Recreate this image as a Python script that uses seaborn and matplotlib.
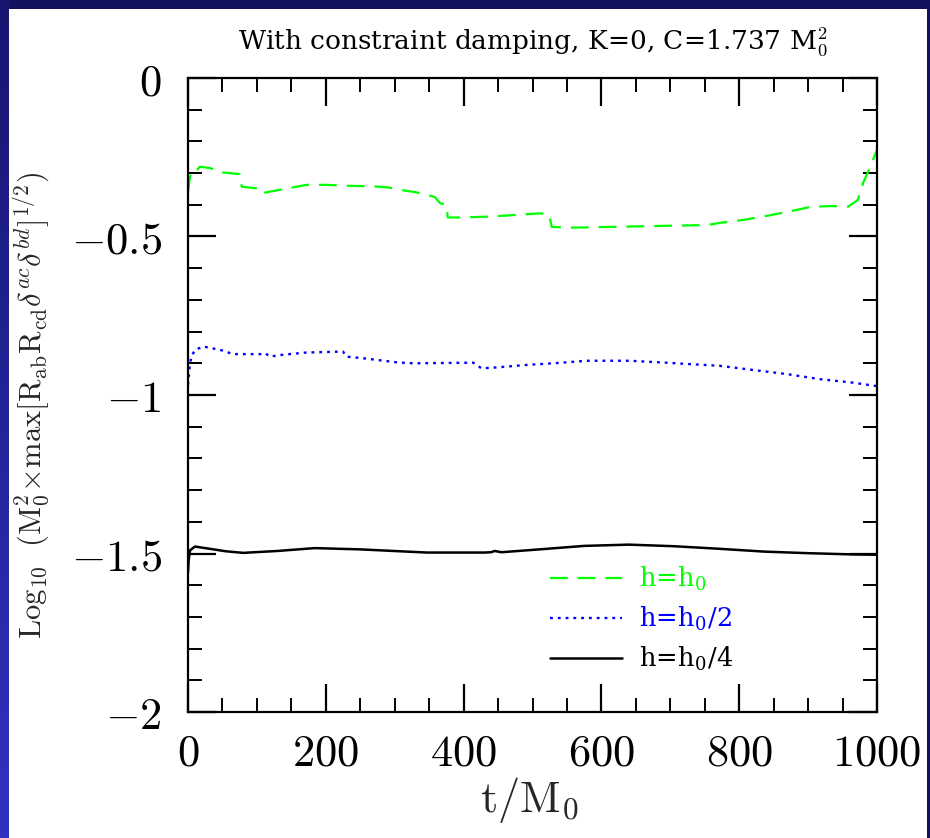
import numpy as np
import pandas as pd
import matplotlib
matplotlib.use("Agg")
import matplotlib.pyplot as plt
from matplotlib.patches import Rectangle
from matplotlib.ticker import MultipleLocator, FuncFormatter
import seaborn as sns

# ---------------- data ----------------
t_h0 = [0, 3, 7, 10, 17, 32, 46, 75, 78, 100, 108, 110, 133, 172, 200, 230, 270, 290,
        308, 330, 345, 358, 366, 375, 377, 395, 440, 475, 511, 524, 528, 560, 700, 753,
        775, 805, 840, 875, 905, 935, 958, 972, 980, 987, 1000]
v_h0 = [-0.36, -0.31, -0.295, -0.30, -0.28, -0.284, -0.297, -0.303, -0.343, -0.348,
        -0.35, -0.362, -0.353, -0.337, -0.337, -0.34, -0.342, -0.345, -0.353, -0.36,
        -0.368, -0.375, -0.395, -0.40, -0.44, -0.44, -0.437, -0.432, -0.427, -0.43,
        -0.47, -0.472, -0.466, -0.464, -0.456, -0.448, -0.435, -0.42, -0.406, -0.404,
        -0.406, -0.385, -0.33, -0.296, -0.227]

t_h2 = [0, 1, 2, 3, 5, 10, 22, 36, 51, 65, 108, 112, 119, 133, 172, 225, 230, 254, 303,
        327, 414, 426, 448, 492, 530, 579, 641, 685, 724, 772, 820, 869, 917, 965, 1000]
v_h2 = [-0.968, -0.946, -0.921, -0.90, -0.879, -0.858, -0.847, -0.853, -0.86, -0.871,
        -0.871, -0.868, -0.879, -0.874, -0.866, -0.863, -0.879, -0.884, -0.897, -0.90,
        -0.898, -0.916, -0.913, -0.905, -0.90, -0.892, -0.892, -0.897, -0.902, -0.908,
        -0.921, -0.934, -0.95, -0.961, -0.972]

t_h4 = [0, 1, 3, 10, 25, 55, 80, 130, 184, 250, 347, 430, 440, 445, 455, 510, 575, 640,
        705, 770, 836, 900, 967, 1000]
v_h4 = [-1.56, -1.52, -1.49, -1.478, -1.483, -1.493, -1.498, -1.492, -1.483, -1.487,
        -1.497, -1.497, -1.496, -1.492, -1.496, -1.487, -1.476, -1.472, -1.477, -1.485,
        -1.494, -1.499, -1.503, -1.504]

labels = [r"h=h$_\mathregular{0}$", r"h=h$_\mathregular{0}$/2", r"h=h$_\mathregular{0}$/4"]
colors = ["#00ff00", "#0000ff", "#000000"]
title_text = r"With constraint damping, K=0, C=1.737 M$_0^2$"
xlabel_text = r"$\mathrm{t/M_0}$"
ylabel_text = r"$\mathrm{Log_{10}\ \ (M_0^2\!\times\!max[R_{ab}R_{cd}}\delta^{ac}\delta^{bd}\mathrm{]^{1/2})}$"
xticks = [0, 200, 400, 600, 800, 1000]
yticks = [0, -0.5, -1, -1.5, -2]

# ---------------- style ----------------
sns.set_style("ticks")
plt.rcParams["mathtext.fontset"] = "cm"
plt.rcParams["font.family"] = ["DejaVu Serif"]

W, H = 930, 838
fig = plt.figure(figsize=(W / 100, H / 100), dpi=100)
fig.patch.set_facecolor("#11115e")

# left blue gradient strip
bg = fig.add_axes([0, 0, 9 / W, 1], zorder=-5)
top = np.array([0x16, 0x16, 0x70]) / 255
bot = np.array([0x32, 0x32, 0xc2]) / 255
g = np.linspace(0, 1, 200)[:, None]
img = (top[None, :] * (1 - g) + bot[None, :] * g)[:, None, :]
bg.imshow(img, aspect="auto", extent=[0, 1, 0, 1], origin="upper")
bg.set_axis_off()

# white panel
fig.add_artist(Rectangle((9 / W, 0), (927 - 9) / W, (H - 9) / H,
                         transform=fig.transFigure, facecolor="white",
                         edgecolor="none", zorder=-4))

ax = fig.add_axes([188 / W, 1 - 712 / H, (877 - 188) / W, (712 - 78) / H])
ax.set_facecolor("none")

df = pd.concat([
    pd.DataFrame({"t": t_h0, "v": v_h0, "run": labels[0]}),
    pd.DataFrame({"t": t_h2, "v": v_h2, "run": labels[1]}),
    pd.DataFrame({"t": t_h4, "v": v_h4, "run": labels[2]}),
])

styles = [dict(linestyle=(0, (8, 4.5)), linewidth=1.6),
          dict(linestyle=(0, (1.2, 2.1)), linewidth=1.7),
          dict(linestyle="-", linewidth=1.8)]
for lab, col, st in zip(labels, colors, styles):
    sns.lineplot(data=df[df["run"] == lab], x="t", y="v", ax=ax, color=col,
                 label=lab, sort=False, estimator=None, **st)

ax.set_xlim(0, 1000)
ax.set_ylim(-2, 0)
ax.set_xticks(xticks)
ax.set_yticks(yticks)
ax.xaxis.set_minor_locator(MultipleLocator(50))
ax.yaxis.set_minor_locator(MultipleLocator(0.1))
fmt = FuncFormatter(lambda v, p: r"$%s$" % ("%g" % v))
ax.xaxis.set_major_formatter(fmt)
ax.yaxis.set_major_formatter(fmt)
ax.tick_params(which="both", direction="in", top=True, right=True, colors="black")
ax.tick_params(which="major", length=20, width=1.6, labelsize=32)
ax.tick_params(axis="y", which="major", pad=19)
ax.tick_params(axis="x", which="major", pad=14)
ax.tick_params(which="minor", length=10, width=1.4)
for sp in ax.spines.values():
    sp.set_linewidth(1.6)
    sp.set_color("black")

ax.set_xlabel(xlabel_text, fontsize=32)
ax.xaxis.set_label_coords(0.496, -0.099)
ax.set_ylabel(ylabel_text, fontsize=22)
ax.yaxis.set_label_coords(-0.197, 0.484)

ax.text(0.5, 1.057, title_text, transform=ax.transAxes, ha="center", va="center",
        fontsize=19, family="DejaVu Serif", color="black")

leg = ax.legend(loc="upper left", bbox_to_anchor=(550 / W, 1 - 565 / H),
                bbox_transform=fig.transFigure, frameon=False, borderpad=0,
                borderaxespad=0, handlelength=2.8, handletextpad=0.68,
                labelspacing=0.45, labelcolor="linecolor",
                prop={"family": "DejaVu Serif", "size": 18.5})

fig.savefig("out.png", dpi=100, facecolor=fig.get_facecolor())
